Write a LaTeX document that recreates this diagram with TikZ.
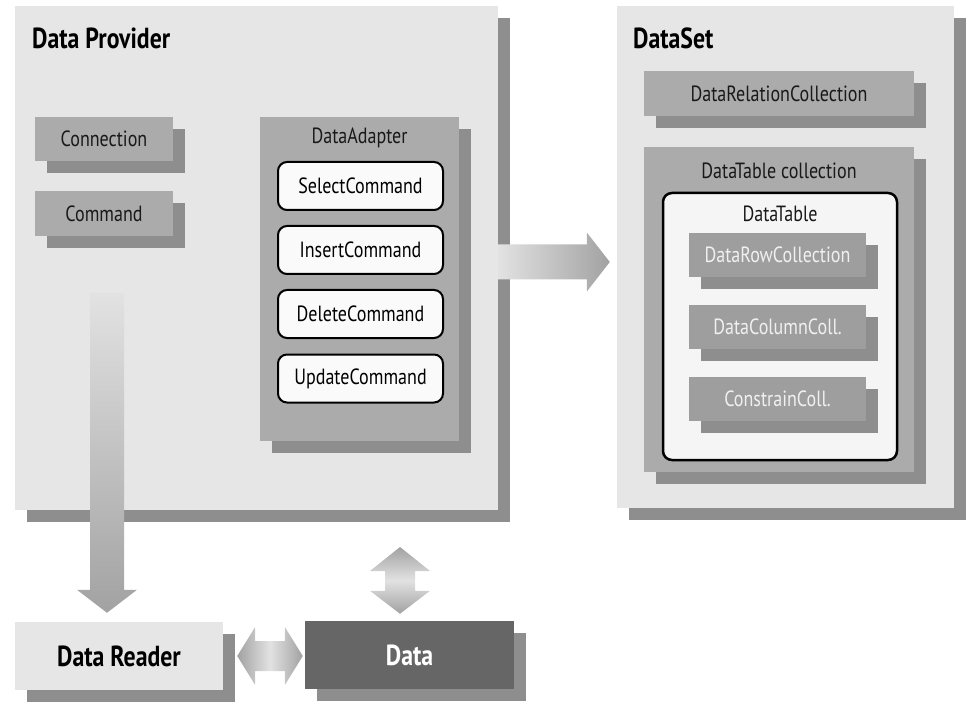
\documentclass[tikz,border=0pt]{standalone}
\usepackage{fontspec}
\setmainfont[FakeStretch=0.82]{PT Sans}
\usetikzlibrary{shadows,calc}

\definecolor{panelgray}{HTML}{E6E6E6}
\definecolor{shadegray}{HTML}{8E8E8E}
\definecolor{boxgray}{HTML}{ABABAB}
\definecolor{rowgray}{HTML}{9E9E9E}
\definecolor{datagray}{HTML}{666666}
\definecolor{arrowlight}{HTML}{E2E2E2}
\definecolor{arrowdark}{HTML}{A2A2A2}

\tikzset{
  shadowed/.style={drop shadow={shadow xshift=12pt, shadow yshift=-12pt, fill=shadegray, opacity=1}},
  panel/.style={shadowed, fill=panelgray, inner sep=0pt},
  graybox/.style={shadowed, fill=boxgray, inner sep=0pt, font=\fontsize{22}{26}\selectfont, text=black!90},
  rowbox/.style={shadowed, fill=rowgray, inner sep=0pt, font=\fontsize{22}{26}\selectfont, text=white!94!black},
  cmdbox/.style={draw=black, line width=2pt, rounded corners=9pt, fill=white!98!black, inner sep=0pt,
    minimum width=165pt, minimum height=48pt, font=\fontsize{22}{26}\selectfont},
  title/.style={font=\fontsize{29}{33}\selectfont\bfseries, inner sep=0pt},
  caption/.style={font=\fontsize{22}{26}\selectfont, inner sep=0pt, text=black!90}
}

\begin{document}
\begin{tikzpicture}[x=1pt, y=-1pt]
\useasboundingbox (0,0) rectangle (969,703);
\begin{scope}
  \node [panel, minimum width=483pt, minimum height=504pt] (dp) at (256.5,258) {};
  \node [title, anchor=west] (dptitle) at (32,38) {Data Provider};
  \node [graybox, minimum width=138pt, minimum height=44pt] (conn) at (104,139) {Connection};
  \node [graybox, minimum width=138pt, minimum height=45pt] (cmd) at (104,213.5) {Command};
  \node [panel, fill=boxgray, minimum width=199pt, minimum height=324pt] (da) at (359.5,279) {};
  \node [caption] (datitle) at (359.5,138) {DataAdapter};
  \node [cmdbox] (sel) at (360.5,186) {SelectCommand};
  \node [cmdbox] (ins) at (360.5,250) {InsertCommand};
  \node [cmdbox] (del) at (360.5,314) {DeleteCommand};
  \node [cmdbox] (upd) at (360.5,378.5) {UpdateCommand};
\end{scope}
\begin{scope}
  \node [panel, minimum width=337pt, minimum height=502pt] (ds) at (785.5,257) {};
  \node [title, anchor=west] (dstitle) at (633,38) {DataSet};
  \node [graybox, minimum width=270pt, minimum height=45pt] (rel) at (779,93.5) {DataRelationCollection};
  \node [panel, fill=boxgray, minimum width=270pt, minimum height=325pt] (dtc) at (779,309.5) {};
  \node [caption] (dtctitle) at (779,171) {DataTable collection};
  \node [cmdbox, line width=2.5pt, fill=white!96!black, minimum width=234pt, minimum height=267pt] (dt) at (780,326.5) {};
  \node [caption] (dttitle) at (780,214) {DataTable};
  \node [rowbox, minimum width=177pt, minimum height=44pt] (rows) at (777.5,255) {DataRowCollection};
  \node [rowbox, minimum width=177pt, minimum height=44pt] (cols) at (777.5,327) {DataColumnColl.};
  \node [rowbox, minimum width=177pt, minimum height=44pt] (cons) at (777.5,399) {ConstrainColl.};
\end{scope}
\node [panel, minimum width=208pt, minimum height=68pt, title] (rd) at (119,656) {Data Reader};
\node [panel, fill=datagray, minimum width=209pt, minimum height=68pt, title, text=white] (data) at (409.5,655) {Data};

\coordinate (ra1) at ([yshift=-4pt]dp.east);
\coordinate (ra2) at ([xshift=-7pt]ra1 -| ds.west);
\shade [left color=arrowlight, right color=arrowdark] let \p1=(ra1), \p2=(ra2) in
  (\x1,\y1+17.5pt) -- (\x2-23pt,\y1+17.5pt) -- (\x2-23pt,\y1+29.5pt) -- (\x2,\y1)
  -- (\x2-23pt,\y1-29.5pt) -- (\x2-23pt,\y1-17.5pt) -- (\x1,\y1-17.5pt) -- cycle;

\coordinate (dn1) at (107,293);
\coordinate (dn2) at ([yshift=9pt]dn1 |- rd.north);
\shade [top color=arrowlight, bottom color=arrowdark] let \p1=(dn1), \p2=(dn2) in
  (\x1-17pt,\y1) -- (\x1+17pt,\y1) -- (\x1+17pt,\y2+23pt) -- (\x1+30pt,\y2+23pt) -- (\x1,\y2)
  -- (\x1-30pt,\y2+23pt) -- (\x1-17pt,\y2+23pt) -- cycle;

\coordinate (vb1) at (400,547);
\coordinate (vb2) at ([yshift=7pt]vb1 |- data.north);
\shade [top color=arrowdark, bottom color=arrowdark, middle color=arrowlight] let \p1=(vb1), \p2=(vb2) in
  (\x1,\y1) -- (\x1+30pt,\y1-24pt) -- (\x1+15pt,\y1-24pt) -- (\x1+15pt,\y2+23pt) -- (\x1+30pt,\y2+23pt)
  -- (\x1,\y2) -- (\x1-30pt,\y2+23pt) -- (\x1-15pt,\y2+23pt) -- (\x1-15pt,\y1-24pt) -- (\x1-30pt,\y1-24pt) -- cycle;

\coordinate (hb1) at ([xshift=14pt]rd.east);
\coordinate (hb2) at ([xshift=-2pt]data.west);
\shade [left color=arrowdark, right color=arrowdark, middle color=arrowlight] let \p1=(hb1), \p2=(hb2) in
  (\x1,\y1) -- (\x1+18pt,\y1+29pt) -- (\x1+18pt,\y1+15pt) -- (\x2-18pt,\y1+15pt) -- (\x2-18pt,\y1+29pt)
  -- (\x2,\y1) -- (\x2-18pt,\y1-29pt) -- (\x2-18pt,\y1-15pt) -- (\x1+18pt,\y1-15pt) -- (\x1+18pt,\y1-29pt) -- cycle;
\end{tikzpicture}
\end{document}
